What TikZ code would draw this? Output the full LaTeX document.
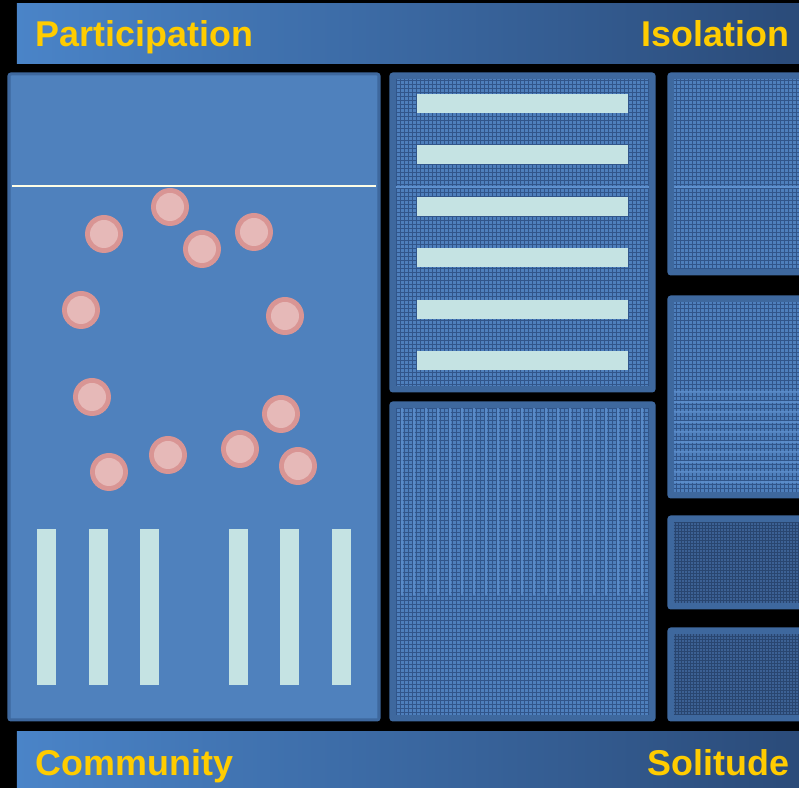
\documentclass[tikz,border=0pt]{standalone}
\usepackage{fontspec}
\setsansfont{Liberation Sans}
\usetikzlibrary{positioning}

\definecolor{barL}{HTML}{4A84C8}
\definecolor{barR}{HTML}{2A4A78}
\definecolor{gold}{HTML}{FFCC00}
\definecolor{panelblue}{HTML}{4F81BD}
\definecolor{paneledge}{HTML}{3E689E}
\definecolor{meshbase}{HTML}{4E7FBC}
\definecolor{meshdot}{HTML}{31558A}
\definecolor{meshlight}{HTML}{5E90CE}
\definecolor{darkbase}{HTML}{3C6194}
\definecolor{darkdot}{HTML}{294670}
\definecolor{ballout}{HTML}{D99594}
\definecolor{ballin}{HTML}{E6B9B8}
\definecolor{strip}{HTML}{C5E3E3}

\begin{document}
\begin{tikzpicture}[x=0.01cm,y=-0.01cm,
		bar/.style={left color=barL, right color=barR, draw=none},
		title/.style={font=\sffamily\bfseries\fontsize{10.2}{12}\selectfont, text=gold, inner sep=0pt},
		panel/.style={fill=panelblue, draw=paneledge, line width=0.03cm, rounded corners=0.02cm},
		meshpanel/.style={panel, fill=paneledge},
		mesh/.style={draw=meshdot, line width=0.26pt},
		stripe/.style={draw=meshlight, line width=0.6pt, opacity=0.8},
		strip/.style={fill=strip}]
	\fill[black] (0,0) rectangle (799,788);
	\clip (0,0) rectangle (799,788);

	% title bars
	\shade[bar] (17,4) rectangle (810,64);
	\shade[bar] (17,732) rectangle (810,795);
	\node[title, anchor=base west] (part) at (35,47) {Participation};
	\node[title, anchor=base east] (iso) at (790,47) {Isolation};
	\node[title, anchor=base west] (comm) at (35,776) {Community};
	\node[title, anchor=base east] (soli) at (790,776) {Solitude};

	% community room
	\draw[panel] (9,74) rectangle (379,720);
	\draw[white!90!yellow, line width=0.012cm] (12,186) -- (376,186);
	\foreach \x/\y in {104/234, 170/207, 202/249, 254/232, 81/310, 285/316,
		92/397, 281/414, 109/472, 168/455, 240/449, 298/466} {
		\fill[ballout] (\x,\y) circle (19);
		\fill[ballin] (\x,\y) circle (14);
	}
	\foreach \x in {37, 89, 140, 229, 280, 332}
		\fill[strip] (\x,529) rectangle ++(19,156);

	% middle column
	\draw[meshpanel] (391,74) rectangle (654,391);
	\fill[meshbase] (396,79) rectangle (649,386);
	\draw[mesh] (396,79) grid[step=0.04cm] (649,386);
	\draw[meshlight, line width=0.02cm] (396,187) -- (649,187);
	\foreach \y in {94, 145, 197, 248, 300, 351}
		\fill[strip] (417,\y) rectangle (628,\y+19);

	\draw[meshpanel] (391,403) rectangle (654,720);
	\fill[meshbase] (396,408) rectangle (649,715);
	\draw[mesh] (396,408) grid[step=0.04cm] (649,715);
	\foreach \x in {402,414,...,648}
		\draw[stripe] (\x,408) -- (\x,595);

	% right column
	\draw[meshpanel] (669,74) rectangle (810,274);
	\fill[meshbase] (674,79) rectangle (810,269);
	\draw[mesh] (674,79) grid[step=0.04cm] (810,269);
	\draw[meshlight, line width=0.02cm] (674,187) -- (810,187);

	\draw[meshpanel] (669,297) rectangle (810,497);
	\fill[meshbase] (674,302) rectangle (810,492);
	\draw[mesh] (674,302) grid[step=0.04cm] (810,492);
	\foreach \y in {392,402,...,490}
		\draw[stripe] (674,\y) -- (810,\y);

	\draw[meshpanel] (669,517) rectangle (810,608);
	\fill[darkbase] (674,522) rectangle (810,603);
	\draw[mesh, draw=darkdot] (674,522) grid[step=0.03cm] (810,603);

	\draw[meshpanel] (669,629) rectangle (810,720);
	\fill[darkbase] (674,634) rectangle (810,715);
	\draw[mesh, draw=darkdot] (674,634) grid[step=0.03cm] (810,715);
\end{tikzpicture}
\end{document}
